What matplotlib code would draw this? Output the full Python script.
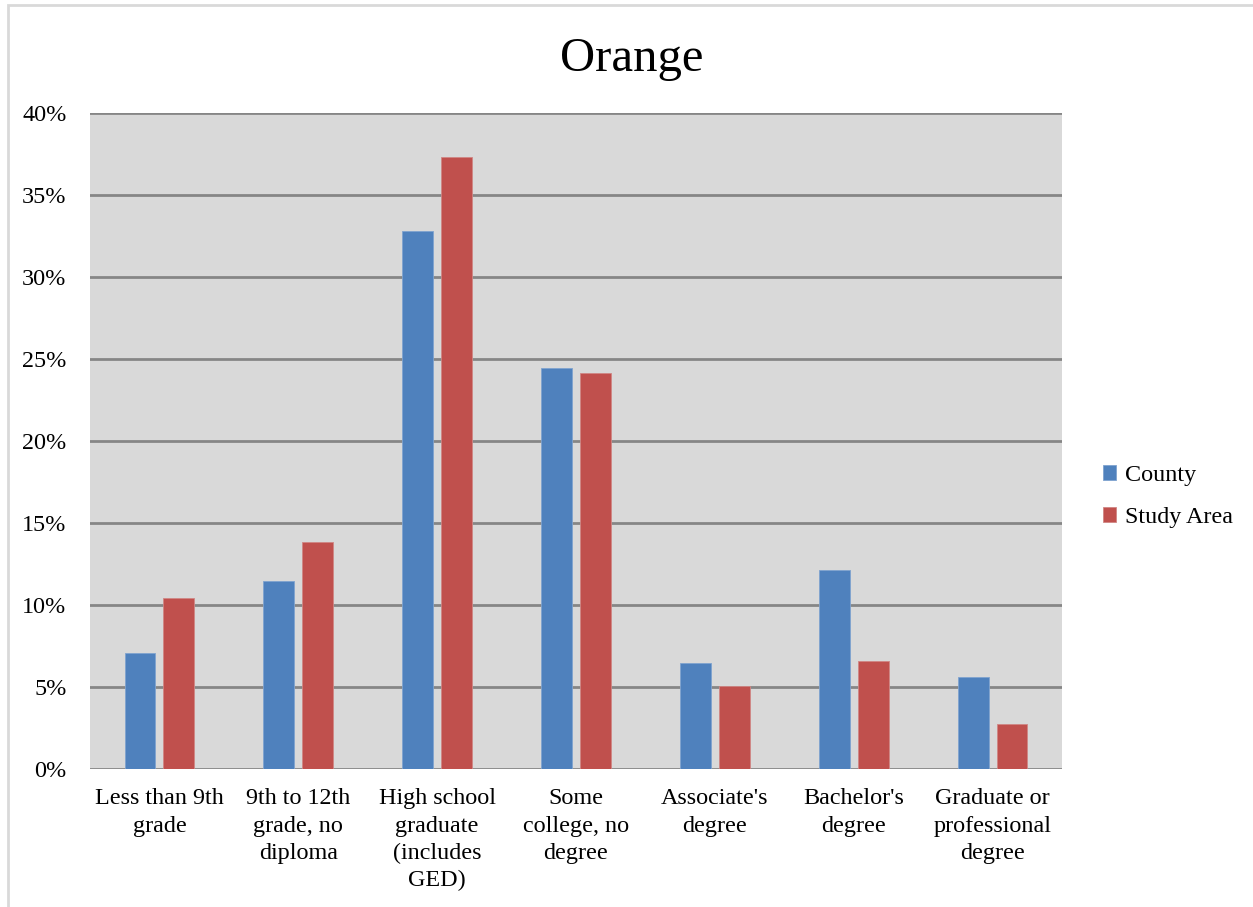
import numpy as np
import matplotlib.pyplot as plt
from matplotlib.ticker import PercentFormatter
from matplotlib.patches import Rectangle

plt.rcParams["font.family"] = ["Liberation Serif", "DejaVu Serif"]

categories = [
    "Less than 9th\ngrade",
    "9th to 12th\ngrade, no\ndiploma",
    "High school\ngraduate\n(includes\nGED)",
    "Some\ncollege, no\ndegree",
    "Associate's\ndegree",
    "Bachelor's\ndegree",
    "Graduate or\nprofessional\ndegree",
]
county = [7.1, 11.45, 32.8, 24.45, 6.45, 12.15, 5.6]
study_area = [10.4, 13.85, 37.3, 24.15, 5.05, 6.6, 2.75]

BLUE = "#4F81BD"
RED = "#C0504D"
FS = 17.4

fig = plt.figure(figsize=(12.53, 9.07), dpi=100)
ax = fig.add_axes([90 / 1253, 1 - 769 / 907, 972 / 1253, 656 / 907])

x = np.arange(len(categories))
w = 0.223
ax.bar(x - 0.14, county, w, color=BLUE, edgecolor="#7FA3CF", linewidth=0.6,
       label="County", zorder=3)
ax.bar(x + 0.14, study_area, w, color=RED, edgecolor="#D08684", linewidth=0.6,
       label="Study Area", zorder=3)

ax.set_facecolor("#D9D9D9")
ax.set_xlim(-0.5, len(categories) - 0.5)
ax.set_ylim(0, 40)
ax.set_yticks(np.arange(0, 41, 5))
ax.yaxis.set_major_formatter(PercentFormatter(decimals=0))
ax.grid(axis="y", color="#868686", linewidth=2, zorder=1)
ax.set_xticks(x)
ax.set_xticklabels(categories, fontsize=FS, linespacing=1.38)
ax.tick_params(axis="both", length=0, labelsize=FS, colors="black")
ax.tick_params(axis="x", pad=14)
ax.tick_params(axis="y", pad=17)
for s in ax.spines.values():
    s.set_visible(False)

fig.text(631.5 / 1253, 1 - 59 / 907, "Orange", ha="center", va="center",
         fontsize=35)

ax.legend(loc="center left", bbox_to_anchor=(1.02, 0.415), frameon=False,
          fontsize=FS, handlelength=0.55, handleheight=0.55, handletextpad=0.35,
          labelspacing=0.87)

# thin frame around the chart
fig.patches.append(Rectangle((8 / 1253, -0.1), 1.2, 1 - 5 / 907 + 0.1,
                             transform=fig.transFigure, fill=False,
                             edgecolor="#D9D9D9", linewidth=2))

fig.savefig("out.png", dpi=100)
